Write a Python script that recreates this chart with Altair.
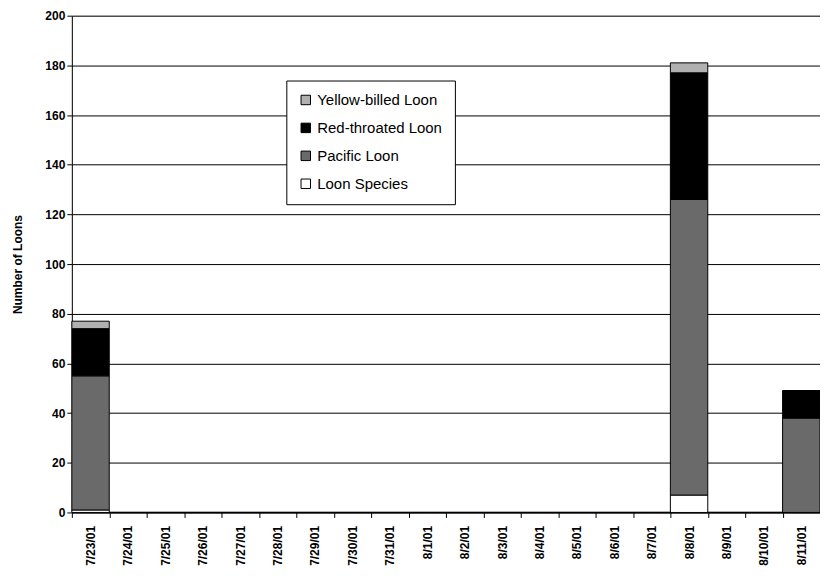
import altair as alt
import pandas as pd

dates = ["7/23/01", "7/24/01", "7/25/01", "7/26/01", "7/27/01", "7/28/01", "7/29/01",
         "7/30/01", "7/31/01", "8/1/01", "8/2/01", "8/3/01", "8/4/01", "8/5/01", "8/6/01",
         "8/7/01", "8/8/01", "8/9/01", "8/10/01", "8/11/01"]
species = ["Yellow-billed Loon", "Red-throated Loon", "Pacific Loon", "Loon Species"]
loon_species = [1, 0, 0, 0, 0, 0, 0, 0, 0, 0, 0, 0, 0, 0, 0, 0, 7, 0, 0, 0]
pacific = [54, 0, 0, 0, 0, 0, 0, 0, 0, 0, 0, 0, 0, 0, 0, 0, 119, 0, 0, 38]
red_throated = [19, 0, 0, 0, 0, 0, 0, 0, 0, 0, 0, 0, 0, 0, 0, 0, 51, 0, 0, 11]
yellow_billed = [3, 0, 0, 0, 0, 0, 0, 0, 0, 0, 0, 0, 0, 0, 0, 0, 4, 0, 0, 0]
colors = ["#b0b0b0", "#000000", "#6a6a6a", "#ffffff"]

series = {"Loon Species": loon_species, "Pacific Loon": pacific,
          "Red-throated Loon": red_throated, "Yellow-billed Loon": yellow_billed}
stack_order = {"Loon Species": 0, "Pacific Loon": 1, "Red-throated Loon": 2, "Yellow-billed Loon": 3}
rows = []
for name, vals in series.items():
    for d, v in zip(dates, vals):
        rows.append({"date": d, "species": name, "count": v, "ord": stack_order[name]})
df = pd.DataFrame(rows)

font = "Liberation Sans"
chart = alt.Chart(df).mark_bar(stroke="black", strokeWidth=1).encode(
    x=alt.X("date:N", scale=alt.Scale(domain=dates, paddingInner=0.0, paddingOuter=0.0),
            axis=alt.Axis(title=None, labelAngle=270, labelAlign="right", labelBaseline="middle",
                          labelFont=font, labelFontSize=12, labelFontWeight="bold",
                          labelColor="black", tickBand="extent", tickColor="black",
                          domainColor="black", labelPadding=8, tickSize=5, grid=False)),
    y=alt.Y("count:Q", stack="zero", scale=alt.Scale(domain=[0, 200], nice=False),
            axis=alt.Axis(title="Number of Loons", values=list(range(0, 201, 20)),
                          titleFont=font, titleFontSize=12, titleFontWeight="bold",
                          titleColor="black", titlePadding=20,
                          labelFont=font, labelFontSize=12, labelFontWeight="bold",
                          labelColor="black", tickColor="black", domainColor="black",
                          tickSize=5, grid=True, gridColor="black", gridWidth=1, gridOpacity=1)),
    color=alt.Color("species:N", scale=alt.Scale(domain=species, range=colors),
                    legend=alt.Legend(title=None, orient="none", legendX=215, legendY=65,
                                      symbolType="square", symbolSize=90,
                                      symbolStrokeColor="black", symbolStrokeWidth=1,
                                      labelFont=font, labelFontSize=15, labelColor="black",
                                      rowPadding=12, padding=12, strokeColor="black",
                                      fillColor="white", labelLimit=300)),
    order=alt.Order("ord:Q", sort="ascending"),
).properties(
    width=750, height=498,
    autosize=alt.AutoSizeParams(type="none"),
    padding={"left": 64, "top": 7, "right": 0, "bottom": 60},
).configure_view(stroke=None).configure(background="white")

chart.save("out.html", embed_options={"renderer": "svg", "actions": False})
